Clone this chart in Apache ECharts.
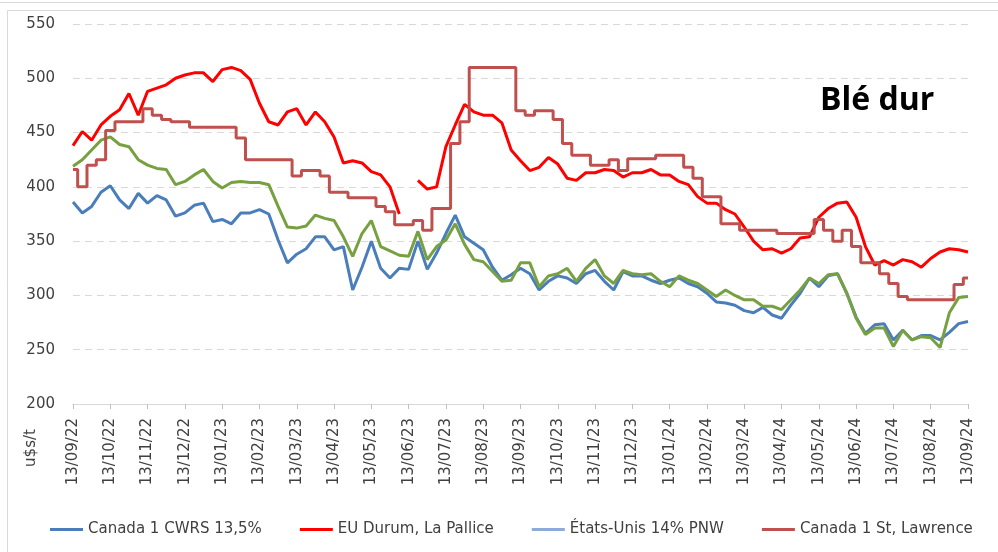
<!DOCTYPE html>
<html>
<head>
<meta charset="UTF-8">
<title>Blé dur</title>
<script src="https://cdn.jsdelivr.net/npm/echarts@6/dist/echarts.min.js"></script>
<style>
  html, body { margin: 0; padding: 0; background: #fff; }
  #main { width: 998px; height: 552px; }
</style>
</head>
<body>
<div id="main"></div>
<script type="text/javascript">
// tick labels (one per month) - 4 points per month in between
var tickLabels = ['13/09/22', '13/10/22', '13/11/22', '13/12/22', '13/01/23', '13/02/23', '13/03/23',
    '13/04/23', '13/05/23', '13/06/23', '13/07/23', '13/08/23', '13/09/23', '13/10/23', '13/11/23',
    '13/12/23', '13/01/24', '13/02/24', '13/03/24', '13/04/24', '13/05/24', '13/06/24', '13/07/24',
    '13/08/24', '13/09/24'];

var seriesNames = ['Canada 1 CWRS 13,5%', 'EU Durum, La Pallice', 'États-Unis 14% PNW', 'Canada 1 St, Lawrence'];

var cwrs = [386, 376, 382, 395, 401, 388, 380, 394, 385, 392, 388, 373, 376, 383, 385, 368, 370, 366, 376, 376,
    379, 375, 351, 330, 338, 343, 354, 354, 342, 345, 305, 326, 350, 325, 316, 325, 324, 350, 324, 339,
    357, 374, 354, 348, 342, 326, 314, 319, 325, 320, 305, 313, 318, 316, 311, 320, 323, 313, 305, 322,
    318, 318, 314, 311, 314, 316, 311, 308, 302, 294, 293, 291, 286, 284, 289, 282, 279, 291, 302, 316,
    308, 318, 320, 302, 280, 265, 273, 274, 259, 268, 259, 263, 263, 259, 266, 274, 276];

var euDurum = [438, 451, 443, 457, 465, 471, 486, 466, 488, 491, 494, 500, 503, 505, 505, 497, 508, 510, 507, 499,
    477, 460, 457, 469, 472, 457, 469, 460, 446, 422, 424, 422, 414, 411, 400, 375, null, 406, 398, 400,
    437, 457, 476, 469, 466, 466, 459, 434, 424, 415, 418, 427, 421, 408, 406, 413, 413, 416, 415, 409,
    413, 413, 416, 411, 411, 405, 402, 391, 385, 385, 379, 375, 363, 350, 342, 343, 339, 343, 353, 354,
    372, 380, 385, 386, 372, 345, 328, 332, 328, 333, 331, 326, 334, 340, 343, 342, 340];

var usPnw = [419, 425, 434, 443, 446, 439, 437, 425, 420, 417, 416, 402, 405, 411, 416, 405, 399, 404, 405, 404,
    404, 402, 382, 363, 362, 364, 374, 371, 369, 354, 336, 357, 369, 345, 341, 337, 336, 359, 333, 345,
    351, 366, 347, 333, 331, 322, 313, 314, 330, 330, 308, 318, 320, 325, 313, 325, 333, 318, 311, 323,
    320, 319, 320, 313, 308, 318, 314, 311, 305, 299, 305, 300, 296, 296, 290, 290, 287, 296, 305, 316,
    311, 319, 320, 302, 279, 264, 270, 270, 253, 268, 259, 262, 261, 252, 284, 298, 299];

var stLawrence = [416, 400, 420, 425, 452, 460, 460, 460, 472, 466, 462, 460, 460, 455, 455, 455, 455, 455, 445, 425,
    425, 425, 425, 425, 410, 415, 415, 410, 395, 395, 390, 390, 390, 382, 377, 365, 365, 369, 360, 380,
    380, 440, 460, 510, 510, 510, 510, 510, 470, 466, 470, 470, 462, 440, 429, 429, 420, 420, 425, 415,
    426, 426, 426, 429, 429, 429, 418, 408, 391, 391, 366, 366, 360, 360, 360, 360, 357, 357, 357, 357,
    370, 360, 350, 360, 345, 330, 330, 320, 311, 299, 296, 296, 296, 296, 296, 310, 316];

var lineColors = ['#4a7ebb', '#ff0000', '#77a040', '#c0504d'];
var legendColors = ['#4a7ebb', '#ff0000', '#8eaadb', '#c0504d'];

// categories: month label, then 3 in-between points
var categories = [];
for (var m = 0; m < tickLabels.length - 1; m++) {
    categories.push(tickLabels[m]);
    for (var s = 1; s < 4; s++) categories.push(tickLabels[m] + ' +' + (s * 7) + 'j');
}
categories.push(tickLabels[tickLabels.length - 1]);

var myChart = echarts.init(document.getElementById('main'));
var font = 'DejaVu Sans';

var option = {
    animation: false,
    backgroundColor: '#fff',
    grid: { left: 73, right: 30, top: 24, bottom: 148 },
    graphic: [
        { type: 'line', shape: { x1: 0, y1: 2.5, x2: 998, y2: 2.5 }, style: { stroke: '#d9d9d9', lineWidth: 1 } },
        { type: 'rect', shape: { x: 7.5, y: 10.5, width: 1000, height: 600 }, style: { fill: 'none', stroke: '#d9d9d9', lineWidth: 1 } },
        { type: 'text', left: 820, top: 85, style: { text: 'Blé dur', font: 'bold 32px "Open Sans"', fill: '#000' } },
        { type: 'text', x: 31, y: 448, rotation: Math.PI / 2,
          style: { text: 'u$s/t', font: '15px "DejaVu Sans"', fill: '#404040', align: 'center', verticalAlign: 'middle' } }
    ],
    legend: {
        left: 45,
        top: 517,
        icon: 'rect',
        itemWidth: 33,
        itemHeight: 3,
        itemGap: 38,
        textStyle: { fontFamily: font, fontSize: 15, color: '#404040' },
        data: seriesNames.map(function (n, i) {
            return { name: n, itemStyle: { color: legendColors[i], borderWidth: 0 } };
        })
    },
    xAxis: {
        type: 'category',
        boundaryGap: false,
        data: categories,
        axisLine: { lineStyle: { color: '#d9d9d9', width: 1 } },
        axisTick: { show: true, interval: 3, length: 5, lineStyle: { color: '#bfbfbf' } },
        axisLabel: { interval: 3, rotate: 90, margin: 14, fontFamily: font, fontSize: 15, color: '#404040' },
        splitLine: { show: false }
    },
    yAxis: {
        type: 'value',
        min: 200,
        max: 550,
        interval: 50,
        axisLine: { show: false },
        axisTick: { show: false },
        axisLabel: { margin: 18, fontFamily: font, fontSize: 15, color: '#404040' },
        splitLine: { lineStyle: { color: '#d9d9d9', width: 1, type: [7, 5] } }
    },
    series: [
        { name: seriesNames[0], type: 'line', data: cwrs, symbol: 'none',
          itemStyle: { color: lineColors[0] }, lineStyle: { color: lineColors[0], width: 3 } },
        { name: seriesNames[1], type: 'line', data: euDurum, symbol: 'none', connectNulls: false,
          itemStyle: { color: lineColors[1] }, lineStyle: { color: lineColors[1], width: 3 } },
        { name: seriesNames[2], type: 'line', data: usPnw, symbol: 'none',
          itemStyle: { color: legendColors[2] }, lineStyle: { color: lineColors[2], width: 3 } },
        { name: seriesNames[3], type: 'line', data: stLawrence, symbol: 'none', step: 'middle',
          itemStyle: { color: lineColors[3] }, lineStyle: { color: lineColors[3], width: 3 } }
    ]
};

myChart.setOption(option);
</script>
</body>
</html>
